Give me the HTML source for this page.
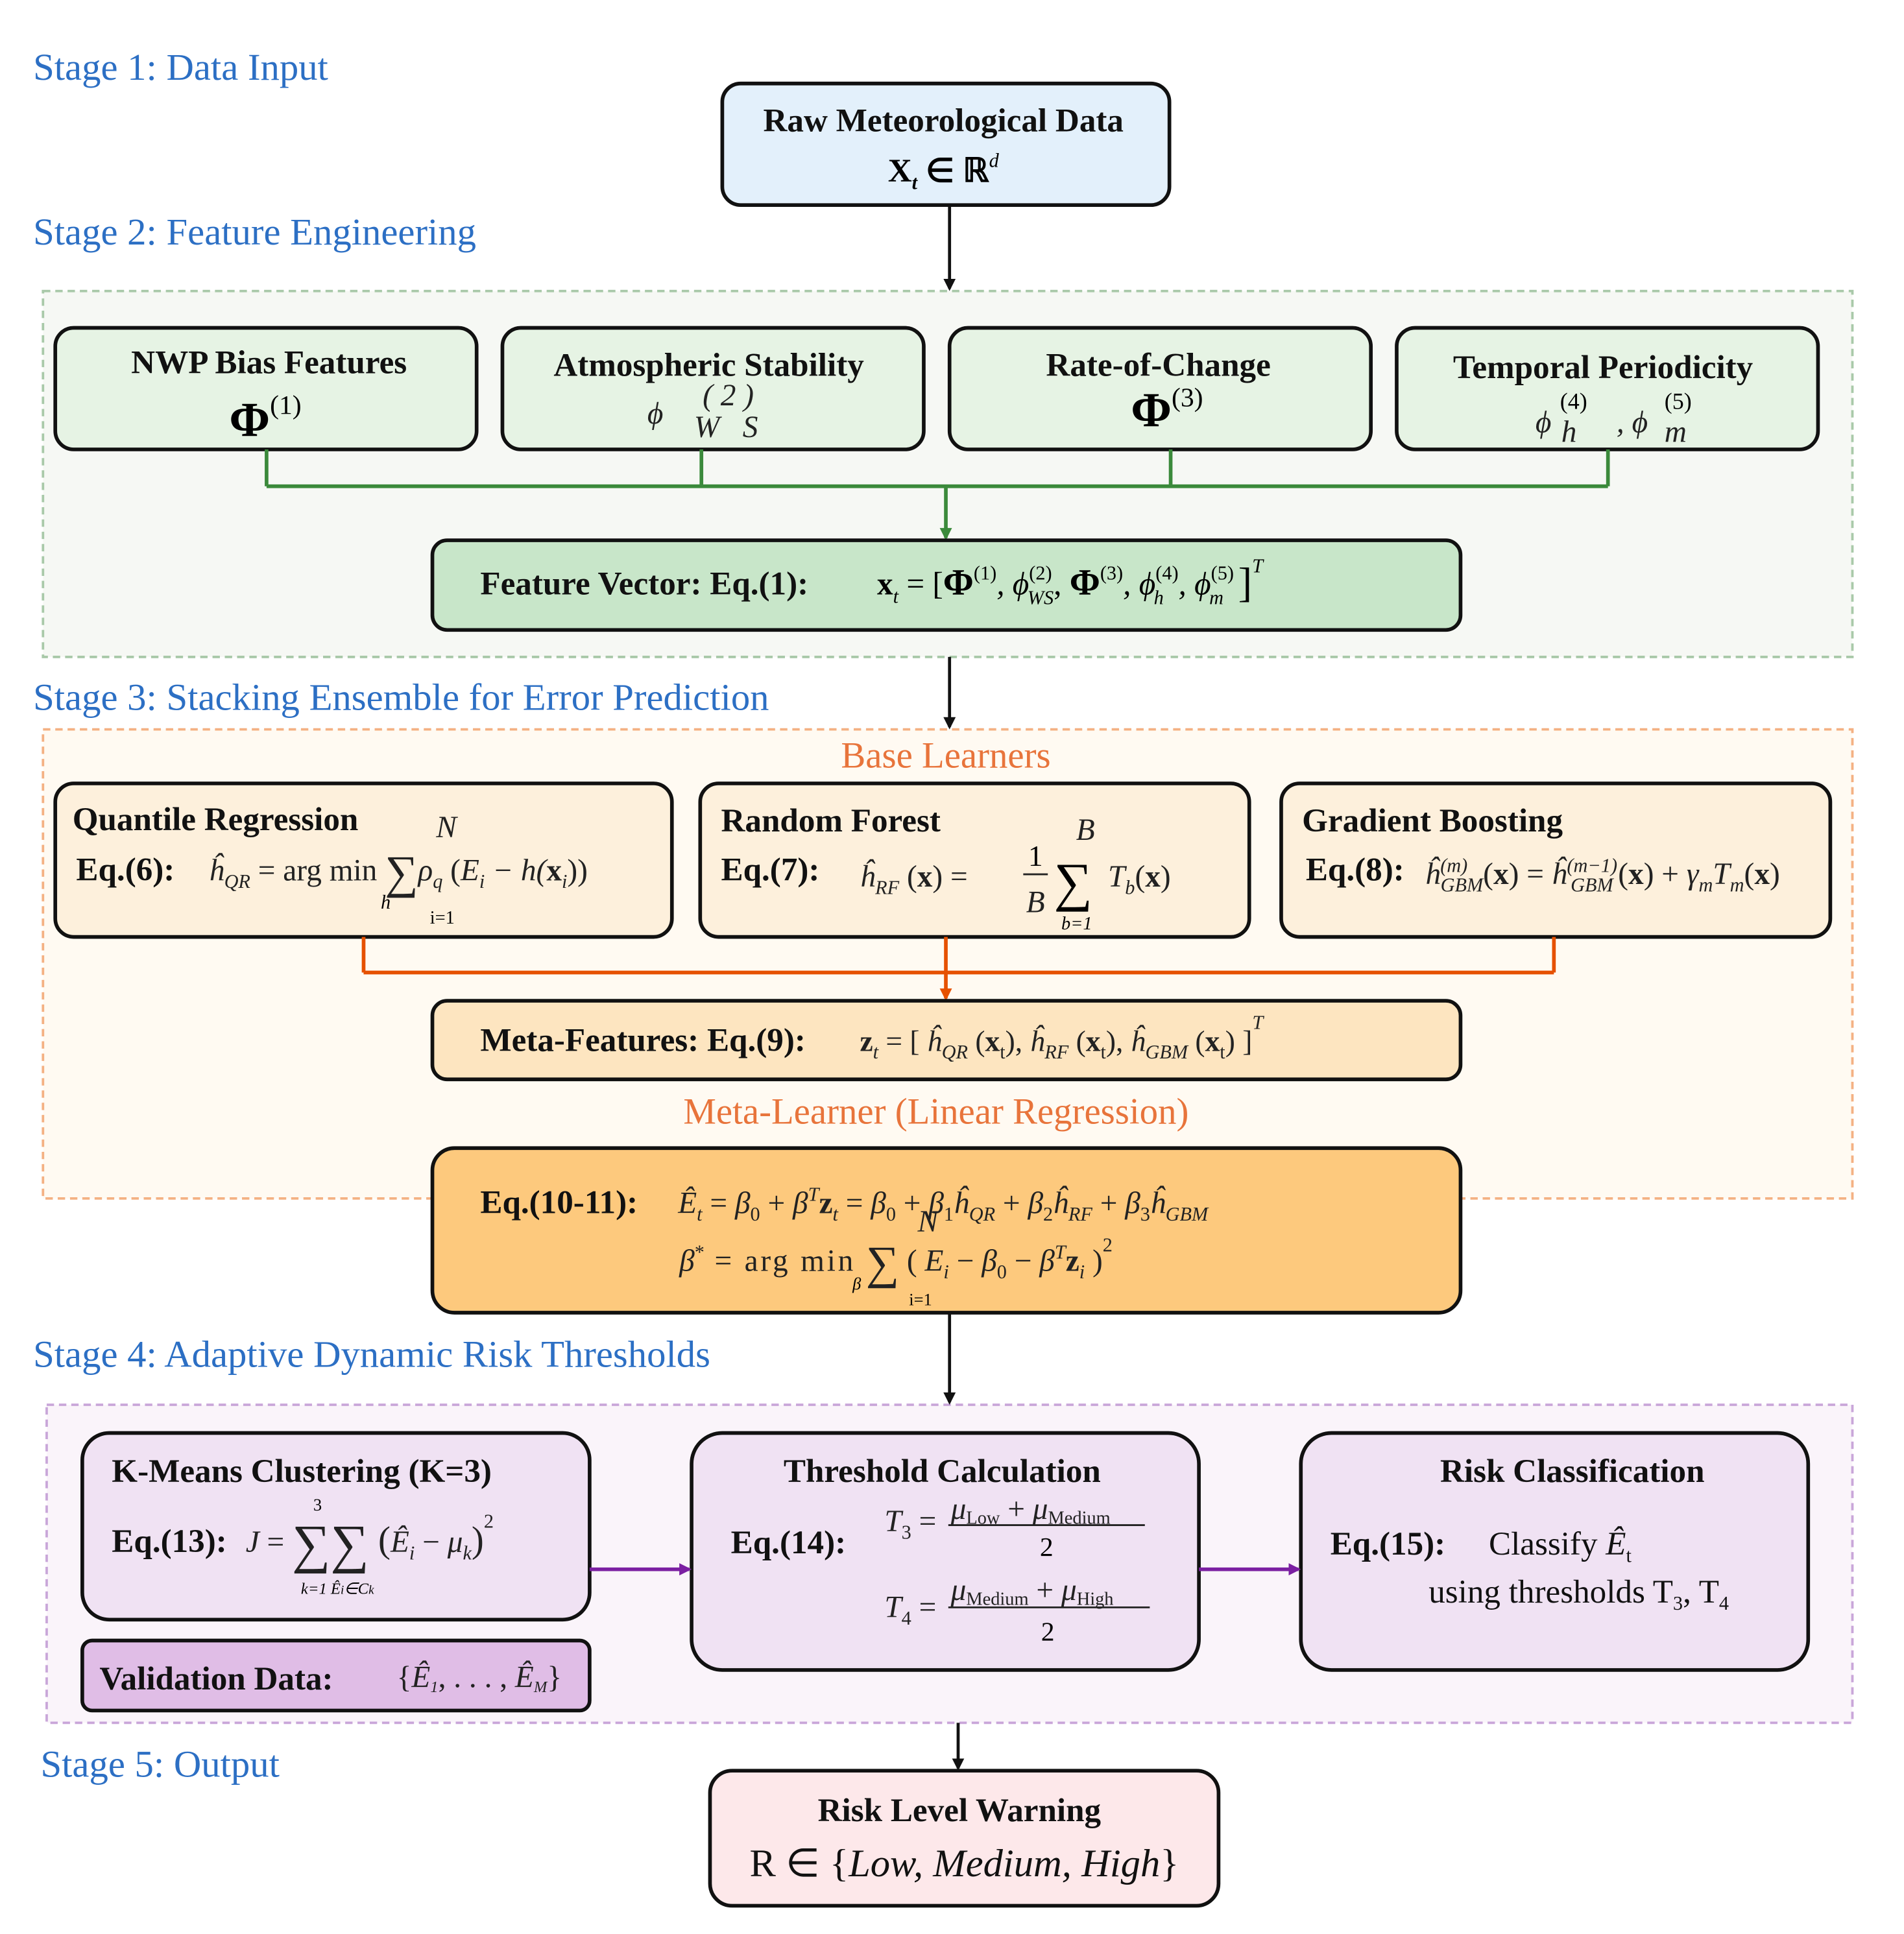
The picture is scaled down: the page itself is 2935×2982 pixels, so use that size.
<!DOCTYPE html>
<html><head><meta charset="utf-8"><style>
html,body{margin:0;padding:0;background:#fff;}
svg{display:block;}
text{font-family:"Liberation Serif",serif;}
.st{fill:#2c6fc4;font-size:31px;}
.t{font-size:27px;font-weight:bold;fill:#111;}
.m{font-size:25px;font-style:italic;fill:#222;}
.e{font-size:25px;font-weight:bold;fill:#111;}
.sb{font-size:16px;}
</style></head><body>
<svg width="2935" height="2982" viewBox="0 0 1550 1575" preserveAspectRatio="none" xmlns="http://www.w3.org/2000/svg">
<defs>
<marker id="ak" markerWidth="10" markerHeight="10" refX="8" refY="5" orient="auto" markerUnits="userSpaceOnUse" viewBox="0 0 10 10"><path d="M0,0 L10,5 L0,10 z" fill="#111"/></marker>
<marker id="ag" markerWidth="10" markerHeight="10" refX="8" refY="5" orient="auto" markerUnits="userSpaceOnUse" viewBox="0 0 10 10"><path d="M0,0 L10,5 L0,10 z" fill="#3b8a3b"/></marker>
<marker id="ao" markerWidth="10" markerHeight="10" refX="8" refY="5" orient="auto" markerUnits="userSpaceOnUse" viewBox="0 0 10 10"><path d="M0,0 L10,5 L0,10 z" fill="#e65100"/></marker>
<marker id="ap" markerWidth="10" markerHeight="10" refX="8" refY="5" orient="auto" markerUnits="userSpaceOnUse" viewBox="0 0 10 10"><path d="M0,0 L10,5 L0,10 z" fill="#7b1fa2"/></marker>
</defs>
<rect width="1550" height="1575" fill="#fff"/>

<!-- containers -->
<rect x="35" y="237" width="1473" height="298" fill="#f6f8f4" stroke="#a9c9a9" stroke-width="2" stroke-dasharray="6,4"/>
<rect x="35" y="594" width="1473" height="382" fill="#fffaf2" stroke="#f4b183" stroke-width="2" stroke-dasharray="6,4"/>
<rect x="38" y="1144" width="1470" height="259" fill="#faf4fa" stroke="#c9a6d9" stroke-width="2" stroke-dasharray="6,4"/>

<!-- stage labels -->
<text class="st" x="27" y="65">Stage 1: Data Input</text>
<text class="st" x="27" y="199">Stage 2: Feature Engineering</text>
<text class="st" x="27" y="578">Stage 3: Stacking Ensemble for Error Prediction</text>
<text class="st" x="27" y="1113">Stage 4: Adaptive Dynamic Risk Thresholds</text>
<text class="st" x="33" y="1447">Stage 5: Output</text>

<!-- Raw box -->
<rect x="588" y="68" width="364" height="99" rx="15" fill="#e3f0fb" stroke="#111" stroke-width="3"/>
<text class="t" x="768" y="107" text-anchor="middle">Raw Meteorological Data</text>
<text x="768" y="148" text-anchor="middle" font-size="27" font-weight="bold">X<tspan class="sb" font-style="italic" dy="6">t</tspan><tspan dy="-6"> ∈ ℝ</tspan><tspan class="sb" font-style="italic" font-weight="normal" dy="-12">d</tspan></text>
<line x1="773" y1="167" x2="773" y2="235" stroke="#111" stroke-width="2.5" marker-end="url(#ak)"/>

<!-- feature boxes -->
<g stroke="#111" stroke-width="3" fill="#e6f3e4">
<rect x="45" y="267" width="343" height="99" rx="15"/>
<rect x="409" y="267" width="343" height="99" rx="15"/>
<rect x="773" y="267" width="343" height="99" rx="15"/>
<rect x="1137" y="267" width="343" height="99" rx="15"/>
</g>
<text class="t" x="219" y="304" text-anchor="middle">NWP Bias Features</text>
<text x="216" y="355" text-anchor="middle" font-size="40" font-weight="bold">Φ<tspan font-size="22" font-weight="normal" dy="-18">(1)</tspan></text>
<text class="t" x="577" y="306" text-anchor="middle">Atmospheric Stability</text>
<text class="m" x="527" y="345">ϕ</text><text class="m" x="572" y="330" font-size="19" font-style="normal">( 2 )</text><text class="m" x="565" y="356" font-size="19">W&#160;&#160;&#160;S</text>
<text class="t" x="943" y="306" text-anchor="middle">Rate-of-Change</text>
<text x="950" y="347" text-anchor="middle" font-size="40" font-weight="bold">Φ<tspan font-size="22" font-weight="normal" dy="-16">(3)</tspan></text>
<text class="t" x="1305" y="308" text-anchor="middle">Temporal Periodicity</text>
<text class="m" x="1250" y="352" font-size="30">ϕ</text><text x="1270" y="333" font-size="19">(4)</text><text class="m" x="1271" y="360" font-size="19">h</text>
<text class="m" x="1316" y="352" font-size="30">, ϕ</text><text x="1355" y="333" font-size="19">(5)</text><text class="m" x="1355" y="360" font-size="19">m</text>

<!-- green connectors -->
<g stroke="#3b8a3b" stroke-width="3" fill="none">
<line x1="217" y1="366" x2="217" y2="396"/>
<line x1="571" y1="366" x2="571" y2="396"/>
<line x1="953" y1="366" x2="953" y2="396"/>
<line x1="1309" y1="366" x2="1309" y2="396"/>
<line x1="217" y1="396" x2="1309" y2="396"/>
<line x1="770" y1="396" x2="770" y2="438" marker-end="url(#ag)"/>
</g>

<!-- feature vector -->
<rect x="352" y="440" width="837" height="73" rx="12" fill="#c8e6c9" stroke="#111" stroke-width="3"/>
<text class="t" x="391" y="484">Feature Vector: Eq.(1):</text>
<text x="714" y="484" font-size="26" font-weight="bold">x<tspan class="sb" font-style="italic" font-weight="normal" dy="7">t</tspan><tspan dy="-7" font-weight="normal"> = [</tspan><tspan font-size="30">Φ</tspan><tspan class="sb" font-weight="normal" dy="-12">(1)</tspan><tspan font-weight="normal" font-style="italic" dy="12">, ϕ</tspan><tspan class="sb" font-weight="normal" dy="-12">(2)</tspan><tspan class="sb" font-weight="normal" font-style="italic" dx="-20" dy="20">WS</tspan><tspan font-weight="normal" dy="-8">, </tspan><tspan font-size="30">Φ</tspan><tspan class="sb" font-weight="normal" dy="-12">(3)</tspan><tspan font-weight="normal" font-style="italic" dy="12">, ϕ</tspan><tspan class="sb" font-weight="normal" dy="-12">(4)</tspan><tspan class="sb" font-style="italic" font-weight="normal" dx="-20" dy="20">h</tspan><tspan font-weight="normal" font-style="italic" dx="12" dy="-8">, ϕ</tspan><tspan class="sb" font-weight="normal" dy="-12">(5)</tspan><tspan class="sb" font-style="italic" font-weight="normal" dx="-20" dy="20">m</tspan><tspan font-weight="normal" font-size="34" dx="12" dy="-6">]</tspan><tspan class="sb" font-style="italic" font-weight="normal" dy="-20">T</tspan></text>

<line x1="773" y1="535" x2="773" y2="592" stroke="#111" stroke-width="2.5" marker-end="url(#ak)"/>

<text x="770" y="625" text-anchor="middle" font-size="30" fill="#e8743b">Base Learners</text>

<g stroke="#111" stroke-width="3" fill="#fdf0dc">
<rect x="45" y="638" width="502" height="125" rx="15"/>
<rect x="570" y="638" width="447" height="125" rx="15"/>
<rect x="1043" y="638" width="447" height="125" rx="15"/>
</g>
<text class="t" x="59" y="676">Quantile Regression</text>
<text class="t" x="62" y="717">Eq.(6):</text>
<text class="m" x="170" y="717">ĥ<tspan class="sb" dy="6">QR</tspan><tspan font-style="normal" dy="-6"> = arg min </tspan><tspan font-size="38" font-style="normal" dy="6">∑</tspan><tspan dy="-6">ρ</tspan><tspan class="sb" dy="6">q</tspan><tspan dy="-6" font-style="normal"> (</tspan>E<tspan class="sb" dy="6">i</tspan><tspan dy="-6"> − h(</tspan><tspan font-weight="bold" font-style="normal">x</tspan><tspan class="sb" dy="6">i</tspan><tspan dy="-6" font-style="normal">))</tspan></text>
<text class="m" x="355" y="682" font-size="16">N</text><text x="310" y="740" font-size="16" font-style="italic">h</text><text x="350" y="752" font-size="15">i=1</text>
<text class="t" x="587" y="677">Random Forest</text>
<text class="t" x="587" y="717">Eq.(7):</text>
<text class="m" x="700" y="722">ĥ<tspan class="sb" dy="6">RF</tspan><tspan font-style="normal" dy="-6"> (</tspan><tspan font-weight="bold" font-style="normal">x</tspan><tspan font-style="normal">) = </tspan></text>
<text x="843" y="705" font-size="24" text-anchor="middle">1</text><line x1="833" y1="712" x2="853" y2="712" stroke="#222" stroke-width="1.5"/><text class="m" x="843" y="743" text-anchor="middle">B</text>
<text x="858" y="733" font-size="44">∑</text><text class="m" x="876" y="684" font-size="16">B</text><text x="864" y="757" font-size="15" font-style="italic">b=1</text>
<text class="m" x="902" y="722">T<tspan class="sb" dy="6">b</tspan><tspan font-style="normal" dy="-6">(</tspan><tspan font-weight="bold" font-style="normal">x</tspan><tspan font-style="normal">)</tspan></text>
<text class="t" x="1060" y="677">Gradient Boosting</text>
<text class="t" x="1063" y="717">Eq.(8):</text>
<text class="m" x="1160" y="720" font-size="23">ĥ<tspan class="sb" dy="-10">(m)</tspan><tspan class="sb" dx="-22" dy="16">GBM</tspan><tspan font-style="normal" dy="-6">(</tspan><tspan font-weight="bold" font-style="normal">x</tspan><tspan font-style="normal">) = </tspan>ĥ<tspan class="sb" dy="-10">(m−1)</tspan><tspan class="sb" dx="-38" dy="16">GBM</tspan><tspan font-style="normal" dx="4" dy="-6">(</tspan><tspan font-weight="bold" font-style="normal">x</tspan><tspan font-style="normal">) + </tspan>γ<tspan class="sb" dy="6">m</tspan><tspan dy="-6">T</tspan><tspan class="sb" dy="6">m</tspan><tspan font-style="normal" dy="-6">(</tspan><tspan font-weight="bold" font-style="normal">x</tspan><tspan font-style="normal">)</tspan></text>

<g stroke="#e65100" stroke-width="3" fill="none">
<line x1="296" y1="763" x2="296" y2="792"/>
<line x1="770" y1="763" x2="770" y2="792"/>
<line x1="1265" y1="763" x2="1265" y2="792"/>
<line x1="296" y1="792" x2="1265" y2="792"/>
<line x1="770" y1="792" x2="770" y2="813" marker-end="url(#ao)"/>
</g>

<rect x="352" y="815" width="837" height="64" rx="12" fill="#fde5c0" stroke="#111" stroke-width="3"/>
<text class="t" x="391" y="856">Meta-Features: Eq.(9):</text>
<text x="700" y="856" font-size="24" fill="#222"><tspan font-weight="bold">z</tspan><tspan class="sb" font-style="italic" dy="6">t</tspan><tspan dy="-6"> = [ </tspan><tspan font-style="italic">ĥ</tspan><tspan class="sb" font-style="italic" dy="6">QR</tspan><tspan dy="-6"> (</tspan><tspan font-weight="bold">x</tspan><tspan class="sb" dy="6">t</tspan><tspan dy="-6">), </tspan><tspan font-style="italic">ĥ</tspan><tspan class="sb" font-style="italic" dy="6">RF</tspan><tspan dy="-6"> (</tspan><tspan font-weight="bold">x</tspan><tspan class="sb" dy="6">t</tspan><tspan dy="-6">), </tspan><tspan font-style="italic">ĥ</tspan><tspan class="sb" font-style="italic" dy="6">GBM</tspan><tspan dy="-6"> (</tspan><tspan font-weight="bold">x</tspan><tspan class="sb" dy="6">t</tspan><tspan dy="-6">) ]</tspan><tspan class="sb" font-style="italic" dy="-18">T</tspan></text>

<text x="762" y="915" text-anchor="middle" font-size="30" fill="#e8743b">Meta-Learner (Linear Regression)</text>

<rect x="352" y="935" width="837" height="134" rx="18" fill="#fdc97d" stroke="#111" stroke-width="3"/>
<text class="t" x="391" y="988">Eq.(10-11):</text>
<text class="m" x="552" y="988" font-size="26">Ê<tspan class="sb" dy="6">t</tspan><tspan font-style="normal" dy="-6"> = </tspan>β<tspan class="sb" font-style="normal" dy="6">0</tspan><tspan font-style="normal" dy="-6"> + </tspan>β<tspan class="sb" dy="-10">T</tspan><tspan font-weight="bold" font-style="normal" dy="10">z</tspan><tspan class="sb" dy="6">t</tspan><tspan font-style="normal" dy="-6"> = </tspan>β<tspan class="sb" font-style="normal" dy="6">0</tspan><tspan font-style="normal" dy="-6"> + </tspan>β<tspan class="sb" font-style="normal" dy="6">1</tspan><tspan dy="-6">ĥ</tspan><tspan class="sb" dy="6">QR</tspan><tspan font-style="normal" dy="-6"> + </tspan>β<tspan class="sb" font-style="normal" dy="6">2</tspan><tspan dy="-6">ĥ</tspan><tspan class="sb" dy="6">RF</tspan><tspan font-style="normal" dy="-6"> + </tspan>β<tspan class="sb" font-style="normal" dy="6">3</tspan><tspan dy="-6">ĥ</tspan><tspan class="sb" dy="6">GBM</tspan></text>
<text class="m" x="553" y="1035" font-size="22">β<tspan class="sb" font-style="normal" dy="-10">*</tspan><tspan font-style="normal" dy="10" letter-spacing="2"> = arg min </tspan><tspan font-size="38" font-style="normal" dy="6">∑</tspan><tspan font-style="normal" dy="-6"> ( </tspan>E<tspan class="sb" dy="6">i</tspan><tspan font-style="normal" dy="-6"> − </tspan>β<tspan class="sb" font-style="normal" dy="6">0</tspan><tspan font-style="normal" dy="-6"> − </tspan>β<tspan class="sb" dy="-10">T</tspan><tspan font-weight="bold" font-style="normal" dy="10">z</tspan><tspan class="sb" dy="6">i</tspan><tspan font-style="normal" dy="-6"> )</tspan><tspan class="sb" font-style="normal" dy="-16">2</tspan></text>
<text class="m" x="747" y="1003" font-size="15">N</text><text x="694" y="1050" font-size="14" font-style="italic">β</text><text x="740" y="1063" font-size="14">i=1</text>

<line x1="773" y1="1069" x2="773" y2="1142" stroke="#111" stroke-width="2.5" marker-end="url(#ak)"/>

<!-- stage 4 boxes -->
<g stroke="#111" stroke-width="3">
<rect x="67" y="1167" width="413" height="152" rx="22" fill="#f0e2f3"/>
<rect x="67" y="1336" width="413" height="57" rx="8" fill="#e0bde6"/>
<rect x="563" y="1167" width="413" height="193" rx="25" fill="#f0e2f3"/>
<rect x="1059" y="1167" width="413" height="193" rx="25" fill="#f0e2f3"/>
</g>
<text class="t" x="91" y="1207">K-Means Clustering (K=3)</text>
<text class="t" x="91" y="1264">Eq.(13):</text>
<text class="m" x="200" y="1264">J<tspan font-style="normal"> = </tspan><tspan font-size="44" font-style="normal" dy="8">∑∑</tspan><tspan font-style="normal" dy="-8" font-size="30"> (</tspan>Ê<tspan class="sb" dy="6">i</tspan><tspan font-style="normal" dy="-6"> − </tspan>μ<tspan class="sb" dy="6">k</tspan><tspan font-style="normal" font-size="30" dy="-6">)</tspan><tspan class="sb" font-style="normal" dy="-20">2</tspan></text>
<text x="255" y="1230" font-size="14">3</text><text x="245" y="1298" font-size="13" font-style="italic">k=1 Ê<tspan font-size="10">i</tspan>∈C<tspan font-size="10">k</tspan></text>
<text class="t" x="81" y="1376">Validation Data:</text>
<text class="m" x="323" y="1374" font-size="20"><tspan font-style="normal">{</tspan>Ê<tspan font-size="13" dy="4">1</tspan><tspan font-style="normal" dy="-4">, . . . , </tspan>Ê<tspan font-size="13" dy="4">M</tspan><tspan font-style="normal" dy="-4">}</tspan></text>

<text class="t" x="767" y="1207" text-anchor="middle">Threshold Calculation</text>
<text class="t" x="595" y="1265">Eq.(14):</text>
<text class="m" x="720" y="1247" font-size="22">T<tspan class="sb" font-style="normal" dy="6">3</tspan><tspan font-style="normal" dy="-6"> =</tspan></text>
<text class="m" x="774" y="1237" font-size="20">μ<tspan font-size="15" font-style="normal" dy="4">Low</tspan><tspan font-style="normal" dy="-4"> + </tspan>μ<tspan font-size="15" font-style="normal" dy="4">Medium</tspan></text>
<line x1="772" y1="1242" x2="932" y2="1242" stroke="#222" stroke-width="1.5"/>
<text x="852" y="1267" font-size="22" text-anchor="middle">2</text>
<text class="m" x="720" y="1317" font-size="22">T<tspan class="sb" font-style="normal" dy="6">4</tspan><tspan font-style="normal" dy="-6"> =</tspan></text>
<text class="m" x="774" y="1303" font-size="20">μ<tspan font-size="15" font-style="normal" dy="4">Medium</tspan><tspan font-style="normal" dy="-4"> + </tspan>μ<tspan font-size="15" font-style="normal" dy="4">High</tspan></text>
<line x1="772" y1="1309" x2="936" y2="1309" stroke="#222" stroke-width="1.5"/>
<text x="853" y="1336" font-size="22" text-anchor="middle">2</text>

<text class="t" x="1280" y="1207" text-anchor="middle">Risk Classification</text>
<text class="t" x="1083" y="1266">Eq.(15):</text>
<text x="1212" y="1266" font-size="27" fill="#111">Classify <tspan font-style="italic">Ê</tspan><tspan class="sb" dy="6">t</tspan></text>
<text x="1163" y="1305" font-size="27" fill="#111">using thresholds T<tspan class="sb" dy="6">3</tspan><tspan dy="-6">, T</tspan><tspan class="sb" dy="6">4</tspan></text>

<line x1="480" y1="1278" x2="561" y2="1278" stroke="#7b1fa2" stroke-width="3" marker-end="url(#ap)"/>
<line x1="976" y1="1278" x2="1057" y2="1278" stroke="#7b1fa2" stroke-width="3" marker-end="url(#ap)"/>

<line x1="780" y1="1403" x2="780" y2="1440" stroke="#111" stroke-width="2.5" marker-end="url(#ak)"/>

<rect x="578" y="1442" width="414" height="110" rx="18" fill="#fde8ea" stroke="#111" stroke-width="3"/>
<text class="t" x="781" y="1483" text-anchor="middle">Risk Level Warning</text>
<text x="785" y="1528" text-anchor="middle" font-size="32" fill="#111">R ∈ {<tspan font-style="italic">Low, Medium, High</tspan>}</text>
</svg>
</body></html>
